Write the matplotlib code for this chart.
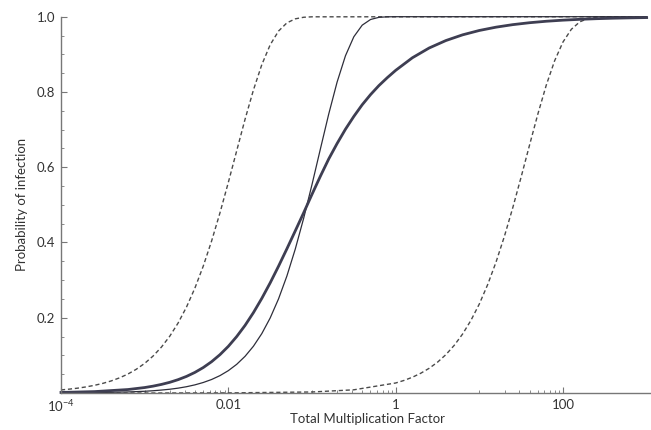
"""
Dose-response curves: probability of infection vs. total multiplication factor.
"""

import matplotlib
matplotlib.use("Agg")
import matplotlib.pyplot as plt
import numpy as np
from matplotlib.ticker import FixedLocator, NullFormatter

plt.rcParams["font.family"] = ["Lato", "DejaVu Sans"]
plt.rcParams["mathtext.default"] = "regular"

# ------------------------------------------------------------------
# Data (dose given as log10 exponent)
# ------------------------------------------------------------------
left_dashed_exp = [-4.0, -3.9, -3.8, -3.7, -3.6, -3.5, -3.4, -3.3, -3.2, -3.1,
                   -3.0, -2.9, -2.8, -2.7, -2.6, -2.5, -2.4, -2.3, -2.2, -2.1,
                   -2.0, -1.9, -1.8, -1.7, -1.6, -1.5, -1.4, -1.3, -1.2, -1.1,
                   -1.0, 3.0]
left_dashed_p = [0.0082, 0.0103, 0.0129, 0.0162, 0.0204, 0.0256, 0.0321, 0.0403,
                 0.0504, 0.0631, 0.0787, 0.0981, 0.1219, 0.1509, 0.1861, 0.2284,
                 0.2785, 0.3370, 0.4039, 0.4787, 0.5596, 0.6437, 0.7275, 0.8052,
                 0.8725, 0.9252, 0.9618, 0.9836, 0.9943, 0.9985, 0.9997, 1.0]

thin_exp = [-4.0, -3.6, -3.2,
            -3.0, -2.9, -2.8, -2.7, -2.6, -2.5, -2.4, -2.3, -2.2, -2.1,
            -2.0, -1.9, -1.8, -1.7, -1.6, -1.5, -1.4, -1.3, -1.2, -1.1,
            -1.0, -0.9, -0.8, -0.7, -0.6, -0.5, -0.4, -0.3, -0.2, -0.1,
            0.0, 3.0]
thin_p = [0.0004, 0.0010, 0.0028,
          0.0046, 0.0060, 0.0078, 0.0100, 0.0129, 0.0167, 0.0216, 0.0279, 0.0359, 0.0462,
          0.0594, 0.0762, 0.0975, 0.1243, 0.1578, 0.1993, 0.2501, 0.3109, 0.3824, 0.4640,
          0.5539, 0.6482, 0.7413, 0.8262, 0.8962, 0.9467, 0.9775, 0.9926, 0.9983, 0.9997,
          1.0, 1.0]

thick_exp = [-4.0, -3.6, -3.2,
             -3.0, -2.9, -2.8, -2.7, -2.6, -2.5, -2.4, -2.3, -2.2, -2.1,
             -2.0, -1.9, -1.8, -1.7, -1.6, -1.5, -1.4, -1.3, -1.2, -1.1,
             -1.0, -0.9, -0.8, -0.7, -0.6, -0.5, -0.4, -0.3, -0.2, -0.1,
             0.0, 0.2, 0.4, 0.6, 0.8, 1.0, 1.2, 1.4, 1.6, 1.8, 2.0, 2.2, 2.4,
             2.6, 2.8, 3.0]
thick_p = [0.0015, 0.0037, 0.0092,
           0.0145, 0.0182, 0.0228, 0.0284, 0.0355, 0.0441, 0.0547, 0.0676, 0.0832, 0.1019,
           0.1240, 0.1500, 0.1797, 0.2136, 0.2514, 0.2926, 0.3369, 0.3832, 0.4308, 0.4787,
           0.5280, 0.5760, 0.6220, 0.6630, 0.7010, 0.7350, 0.7660, 0.7930, 0.8170, 0.8380,
           0.8574, 0.8909, 0.9168, 0.9366, 0.9518, 0.9634, 0.9722, 0.9789, 0.9840, 0.9879,
           0.9908, 0.9930, 0.9947, 0.9960, 0.9969, 0.9977]

right_dashed_exp = [-4.0, -3.0, -2.0, -1.0, -0.5, 0.0, 0.1,
                    0.2, 0.3, 0.4, 0.5, 0.6, 0.7, 0.8, 0.9, 1.0, 1.1,
                    1.2, 1.3, 1.4, 1.5, 1.6, 1.7, 1.8, 1.9, 2.0, 2.1,
                    2.2, 2.3, 2.4, 2.5, 3.0]
right_dashed_p = [0.0, 0.0, 0.0003, 0.0027, 0.0085, 0.0266, 0.0334,
                  0.0419, 0.0525, 0.0656, 0.0818, 0.1019, 0.1266, 0.1567, 0.1931, 0.2366, 0.2882,
                  0.3481, 0.4165, 0.4925, 0.5742, 0.6587, 0.7416, 0.8180, 0.8829, 0.9328, 0.9666,
                  0.9862, 0.9954, 0.9989, 0.9998, 1.0]

x_major = [1e-4, 1e-2, 1, 100]
x_major_labels = ["10$^{-4}$", "0.01", "1", "100"]
y_major = [0.2, 0.4, 0.6, 0.8, 1.0]
y_major_labels = ["0.2", "0.4", "0.6", "0.8", "1.0"]


def main():
    fig = plt.figure(figsize=(6.51, 4.30), dpi=100)
    ax = fig.add_axes([61 / 651, 37 / 430, 589 / 651, 376.3 / 430])

    dashed = dict(color="#4a4a4a", linewidth=1.0, linestyle=(0, (3, 2)), clip_on=False)
    ax.plot(10.0 ** np.array(left_dashed_exp), left_dashed_p, **dashed)
    ax.plot(10.0 ** np.array(right_dashed_exp), right_dashed_p, **dashed)
    ax.plot(10.0 ** np.array(thin_exp), thin_p, color="#2e2e3a", linewidth=0.9, clip_on=False)
    ax.plot(10.0 ** np.array(thick_exp), thick_p, color="#3e3e52", linewidth=2.0, clip_on=False)

    ax.set_xscale("log")
    ax.set_xlim(1e-4, 10 ** 3.04)
    ax.set_ylim(0, 1.0)

    # Mathematica-style axes
    for side in ("top", "right"):
        ax.spines[side].set_visible(False)
    for side in ("left", "bottom"):
        ax.spines[side].set_color("#777777")
        ax.spines[side].set_linewidth(1.0)

    minor_x = [k * 10.0 ** e for e in (-3, -1, 1) for k in range(1, 10)]
    ax.xaxis.set_major_locator(FixedLocator(x_major))
    ax.set_xticklabels(x_major_labels)
    ax.xaxis.set_minor_locator(FixedLocator(minor_x))
    ax.xaxis.set_minor_formatter(NullFormatter())

    ax.set_yticks(y_major)
    ax.set_yticklabels(y_major_labels)
    ax.yaxis.set_minor_locator(FixedLocator([0.05 * i for i in range(1, 20)]))

    ax.tick_params(which="both", direction="in", color="#777777",
                   labelcolor="#333333", labelsize=9.5)
    ax.tick_params(which="major", length=4, width=0.8, pad=4)
    ax.tick_params(which="minor", length=2.5, width=0.6)

    ax.set_xlabel("Total Multiplication Factor", fontsize=9.5, color="#333333")
    ax.set_ylabel("Probability of infection", fontsize=9.5, color="#333333")
    ax.xaxis.set_label_coords(0.521, -0.052)
    ax.yaxis.set_label_coords(-0.056, 0.5)

    fig.savefig("out.png", dpi=100, facecolor="white")
    plt.close(fig)


if __name__ == "__main__":
    main()
